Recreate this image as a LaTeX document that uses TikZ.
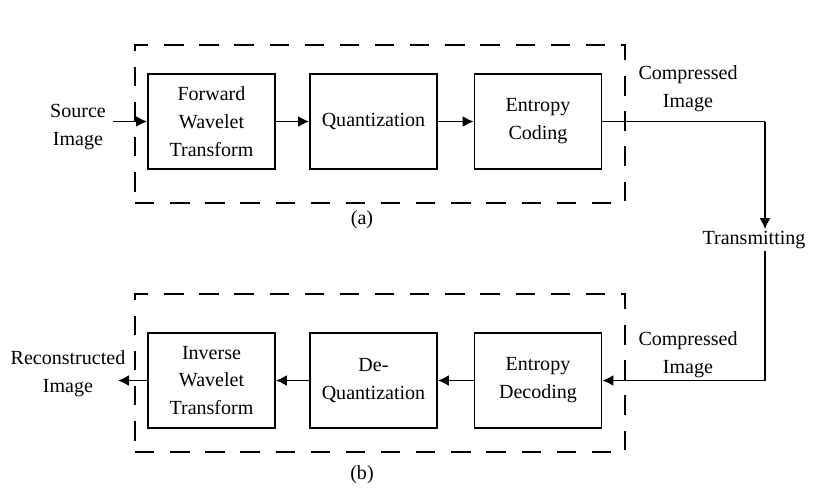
\documentclass[tikz,border=0pt]{standalone}
\usepackage{fontspec}
\setmainfont{Liberation Serif}
\usetikzlibrary{arrows.meta}

\begin{document}
\begin{tikzpicture}[x=0.02cm, y=-0.02cm,
  >={Latex[length=2.2mm,width=2.2mm]},
  every node/.style={font=\fontsize{11.4pt}{15.9pt}\selectfont},
  block/.style={draw, line width=1.1pt, minimum width=2.54cm, minimum height=1.9cm, align=center, inner sep=1pt},
  group/.style={draw, line width=1.1pt, dash pattern=on 11pt off 9pt, minimum width=9.8cm, minimum height=3.16cm},
  lbl/.style={align=center, inner sep=1pt},
  arr/.style={->, line width=0.9pt}]
\useasboundingbox (0,0) rectangle (817,494);

% compression (a)
\node[group] (ga) at (380,124) {};
\node[block] (fwd) at (211.5,121.5) {Forward\\Wavelet\\Transform};
\node[block] (qnt) at (373.5,121.5) {Quantization};
\node[block] (enc) at (538,121.5) {Entropy\\Coding};
\node[lbl] (src) at (78,127) {Source\\Image};
\node[lbl] (capa) at (362,220) {(a)};
\coordinate (srcin) at (113,121.5);
\draw[arr] (srcin) -- (fwd.west);
\draw[arr] (fwd) -- (qnt);
\draw[arr] (qnt) -- (enc);

% channel
\node[lbl] (cmpa) at (688,89) {Compressed\\Image};
\node[lbl] (trans) at (754,240) {Transmitting};
\node[lbl] (cmpb) at (688,355) {Compressed\\Image};
\coordinate (turna) at (765,121.5);
\coordinate (turnb) at (765,380.5);
\draw[line width=0.9pt] (enc.east) -- (turna);
\draw[arr] (turna) -- (turna |- trans.north);
\draw[line width=0.9pt] (turnb |- trans.south) -- (turnb);

% decompression (b)
\node[group] (gb) at (380,373) {};
\node[block] (inv) at (211.5,380.5) {Inverse\\Wavelet\\Transform};
\node[block] (dqn) at (373.5,380.5) {De-\\Quantization};
\node[block] (dec) at (538,380.5) {Entropy\\Decoding};
\node[lbl] (rec) at (68,374) {Reconstructed\\Image};
\node[lbl] (capb) at (362,475) {(b)};
\coordinate (recout) at (118,380.5);
\draw[arr] (turnb) -- (dec.east);
\draw[arr] (dec) -- (dqn);
\draw[arr] (dqn) -- (inv);
\draw[arr] (inv.west) -- (recout);
\end{tikzpicture}
\end{document}
